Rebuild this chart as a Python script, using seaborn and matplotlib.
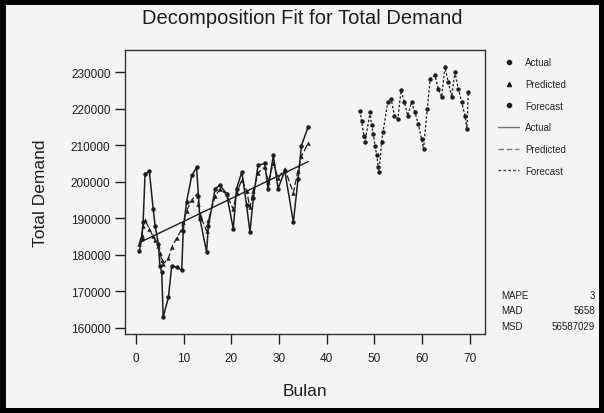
import numpy as np
import pandas as pd
import matplotlib
matplotlib.use("Agg")
import matplotlib.pyplot as plt
import seaborn as sns
from matplotlib.patches import Rectangle
from matplotlib.lines import Line2D

# Data
bulan_actual = [0.7, 1.2, 1.5, 1.9, 2.8, 3.6, 4.0, 4.7, 5.0, 5.4, 5.7, 6.8, 7.5, 8.5,
                9.6, 9.9, 10.6, 11.7, 12.7, 13.1, 13.4, 14.8, 15.2, 16.6, 17.6, 19.0,
                20.4, 21.1, 22.2, 23.2, 23.9, 24.6, 25.6, 27.0, 27.7, 28.8, 29.8, 31.2,
                33.0, 34.0, 34.7, 36.1]
actual = [181000, 184400, 189000, 202200, 202800, 192600, 188000, 183000, 177000, 175200,
          162900, 168300, 177000, 176600, 175700, 186600, 194400, 201700, 203900, 196200,
          189900, 180800, 188000, 198100, 199000, 196700, 187100, 198100, 202700, 193500,
          186200, 195400, 204500, 205000, 198100, 207200, 198100, 203000, 188900, 200800,
          209900, 215000]
predicted = [183000, 185500, 188000, 189500, 187000, 185000, 184000, 182500, 180500, 178500,
             177500, 179000, 182000, 184500, 187000, 189000, 192000, 195000, 196500, 194000,
             191000, 186500, 189500, 196000, 198000, 196500, 192500, 197000, 200500, 197500,
             193000, 197500, 202500, 204000, 200000, 205000, 201000, 203500, 197000, 203000,
             207000, 210500]
trend_x = [0.7, 36.1]
trend_y = [183300, 205500]
bulan_forecast = [47.0, 47.3, 47.8, 48.0, 49.1, 49.4, 49.8, 50.1, 50.5, 50.8, 51.0, 51.5,
                  51.8, 52.8, 53.5, 54.2, 54.9, 55.6, 56.3, 57.0, 57.8, 58.5, 59.2, 59.9,
                  60.3, 61.1, 61.7, 62.7, 63.4, 64.1, 64.8, 65.5, 66.2, 66.9, 67.6, 68.3,
                  69.0, 69.4, 69.7]
forecast = [219500, 216700, 212600, 210800, 219000, 215400, 213100, 209900, 207200, 204000,
            202600, 210800, 213600, 221800, 222700, 218100, 217200, 225000, 221800, 218100,
            221800, 219000, 215800, 211700, 209000, 220000, 228200, 229100, 225400, 223200,
            231400, 227300, 223200, 230000, 225400, 221800, 218100, 214500, 224500]
legend_labels = ["Actual", "Predicted", "Forecast"]
accuracy_names = ["MAPE", "MAD", "MSD"]
accuracy_values = ["3", "5658", "56587029"]

df_act = pd.DataFrame({"Bulan": bulan_actual, "Actual": actual, "Predicted": predicted})
df_trend = pd.DataFrame({"Bulan": trend_x, "Trend": trend_y})
df_fc = pd.DataFrame({"Bulan": bulan_forecast, "Forecast": forecast})

sns.set_style("ticks")
plt.rcParams["font.family"] = ["Liberation Sans Narrow", "Liberation Sans", "DejaVu Sans"]

bg = "#f4f4f2"
ink = "#1e1e1e"
fig = plt.figure(figsize=(6.04, 4.14), dpi=100, facecolor=bg)
ax = fig.add_axes([0.207, 0.191, 0.596, 0.686], facecolor=bg)

sns.lineplot(data=df_act, x="Bulan", y="Actual", ax=ax, color=ink, lw=1.1,
             marker="o", markersize=3.2, markeredgewidth=0, sort=False)
sns.lineplot(data=df_act, x="Bulan", y="Predicted", ax=ax, color=ink, lw=0.9,
             marker="^", markersize=3.2, markeredgewidth=0, sort=False,
             linestyle=(0, (5, 2)))
sns.lineplot(data=df_trend, x="Bulan", y="Trend", ax=ax, color=ink, lw=1.0)
sns.lineplot(data=df_fc, x="Bulan", y="Forecast", ax=ax, color=ink, lw=0.9,
             marker="o", markersize=3.2, markeredgewidth=0, sort=False,
             linestyle=(0, (2, 1.5)))

ax.set_xlim(-2.3, 73.2)
ax.set_ylim(158300, 236100)
ax.set_xticks(range(0, 71, 10))
ax.set_yticks(range(160000, 230001, 10000))
ax.tick_params(axis="both", labelsize=8.5, colors=ink, length=7, width=1.0)
ax.tick_params(axis="x", pad=6)
for s in ax.spines.values():
    s.set_color("#333333")
    s.set_linewidth(1.0)

ax.set_xlabel("Bulan", fontsize=12.5, color=ink, labelpad=14)
ax.set_ylabel("Total Demand", fontsize=12.5, color=ink, labelpad=16)
fig.text(0.5, 0.955, "Decomposition Fit for Total Demand", ha="center", va="center",
         fontsize=14.5, color=ink)

# legend
handles = [
    Line2D([], [], color=ink, marker="o", linestyle="none", markersize=3),
    Line2D([], [], color=ink, marker="^", linestyle="none", markersize=3),
    Line2D([], [], color=ink, marker="o", linestyle="none", markersize=3),
    Line2D([], [], color="#777777", lw=1.0),
    Line2D([], [], color="#777777", lw=1.0, linestyle=(0, (4, 2))),
    Line2D([], [], color="#444444", lw=1.0, linestyle=(0, (2, 1.5))),
]
fig.legend(handles, legend_labels + legend_labels, loc="upper left",
           bbox_to_anchor=(0.81, 0.88), frameon=False, fontsize=7,
           handlelength=2.2, labelspacing=1.2, handletextpad=0.6)

for i, (n, v) in enumerate(zip(accuracy_names, accuracy_values)):
    y = 0.285 - i * 0.037
    fig.text(0.83, y, n, fontsize=7, color=ink, va="center")
    fig.text(0.985, y, v, fontsize=7, color=ink, va="center", ha="right")

# photo frame
fig.patches.append(Rectangle((0.004, 0.004), 0.992, 0.992, transform=fig.transFigure,
                             fill=False, edgecolor="black", linewidth=5))

fig.savefig("out.png", dpi=100, facecolor=bg)
